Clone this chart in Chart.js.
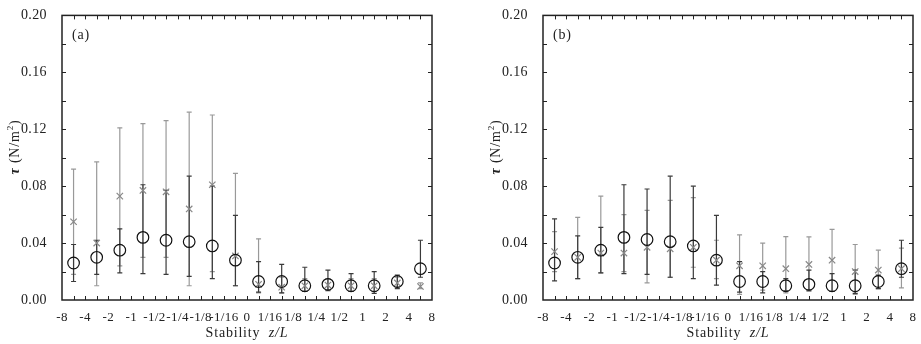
<!DOCTYPE html>
<html>
<head>
<meta charset="utf-8">
<script src="https://cdn.jsdelivr.net/npm/chart.js@4.4.0/dist/chart.umd.min.js"></script>
<style>
  body { margin: 0; background: #fff; }
  #wrap { position: relative; width: 921px; height: 344px; }
  canvas { position: absolute; top: 0; }
</style>
</head>
<body>
<div id="wrap">
  <canvas id="chartA" width="440" height="344" style="left:0"></canvas>
  <canvas id="chartB" width="440" height="344" style="left:481px"></canvas>
</div>
<script>
// Stability classes z/L (tick labels at bin edges)
const stabilityLabels = ['-8', '-4', '-2', '-1', '-1/2', '-1/4', '-1/8', '-1/16', '0', '1/16', '1/8', '1/4', '1/2', '1', '2', '4', '8'];
const yTicks = [0, 0.04, 0.08, 0.12, 0.16, 0.20];

// panel (a): circles (black) and crosses (gray), with error-bar ends
const circA   = [0.026, 0.030, 0.035, 0.044, 0.042, 0.041, 0.038, 0.028, 0.013, 0.013, 0.010, 0.011, 0.010, 0.010, 0.013, 0.022];
const circALo = [0.013, 0.018, 0.019, 0.0185, 0.018, 0.0166, 0.015, 0.010, 0.0055, 0.005, 0.006, 0.0065, 0.006, 0.0046, 0.008, 0.016];
const circAHi = [0.039, 0.042, 0.050, 0.081, 0.077, 0.087, 0.080, 0.0595, 0.027, 0.025, 0.023, 0.021, 0.0185, 0.020, 0.0175, 0.042];
const crossA   = [0.055, 0.040, 0.073, 0.077, 0.076, 0.064, 0.081, 0.031, 0.011, 0.009, 0.010, 0.0105, 0.010, 0.010, 0.012, 0.0095];
const crossALo = [0.018, 0.010, 0.024, 0.030, 0.030, 0.010, 0.020, 0.010, 0.005, 0.005, 0.006, 0.007, 0.006, 0.006, 0.009, 0.008];
const crossAHi = [0.092, 0.097, 0.121, 0.124, 0.126, 0.132, 0.130, 0.089, 0.043, 0.016, 0.015, 0.015, 0.015, 0.015, 0.016, 0.012];

// panel (b)
const circB   = [0.026, 0.030, 0.035, 0.044, 0.0425, 0.041, 0.038, 0.028, 0.013, 0.013, 0.010, 0.011, 0.010, 0.010, 0.013, 0.022];
const circBLo = [0.0134, 0.015, 0.019, 0.0185, 0.018, 0.016, 0.015, 0.0104, 0.0055, 0.005, 0.0065, 0.007, 0.006, 0.0046, 0.008, 0.016];
const circBHi = [0.057, 0.045, 0.051, 0.081, 0.078, 0.087, 0.080, 0.0595, 0.027, 0.020, 0.015, 0.021, 0.0185, 0.021, 0.0175, 0.042];
const crossB   = [0.034, 0.030, 0.033, 0.033, 0.037, 0.036, 0.037, 0.028, 0.024, 0.024, 0.022, 0.025, 0.028, 0.020, 0.021, 0.022];
const crossBLo = [0.020, 0.015, 0.019, 0.020, 0.012, 0.016, 0.023, 0.015, 0.004, 0.007, 0.005, 0.006, 0.006, 0.004, 0.008, 0.0085];
const crossBHi = [0.048, 0.058, 0.073, 0.060, 0.063, 0.070, 0.072, 0.042, 0.0457, 0.040, 0.0445, 0.0443, 0.0496, 0.039, 0.035, 0.0365];

const SERIF = '"Liberation Serif", "Times New Roman", serif';

// points sit in the middle of each stability bin
const pts = vals => vals.map((v, i) => ({ x: i + 0.5, y: v }));
// error bar: two ends, then a gap
const barPts = (lo, hi) => {
    const out = [];
    lo.forEach((l, i) => {
        out.push({ x: i + 0.5, y: l }, { x: i + 0.5, y: hi[i] }, { x: i + 0.5, y: null });
    });
    return out;
};

const frame = {
    id: 'frame',
    beforeDraw(chart) {
        chart.ctx.letterSpacing = '0.4px';
    },
    afterDraw(chart, args, opts) {
        const { ctx, chartArea: a, scales: { x, y } } = chart;
        ctx.save();
        ctx.strokeStyle = '#222';
        ctx.lineWidth = 1;
        ctx.beginPath();
        for (let k = 1; k < 32; k++) {
            const px = Math.round(x.getPixelForValue(k / 2)) + 0.5;
            ctx.moveTo(px, a.bottom); ctx.lineTo(px, a.bottom - 4);
            ctx.moveTo(px, a.top); ctx.lineTo(px, a.top + 4);
        }
        for (let k = 1; k < 10; k++) {
            const py = Math.round(y.getPixelForValue(k * 0.02)) + 0.5;
            ctx.moveTo(a.left, py); ctx.lineTo(a.left + 4, py);
            ctx.moveTo(a.right, py); ctx.lineTo(a.right - 4, py);
        }
        ctx.stroke();
        ctx.lineWidth = 1.5;
        ctx.strokeRect(a.left, a.top, a.right - a.left, a.bottom - a.top);

        ctx.fillStyle = '#222';
        ctx.textBaseline = 'middle';
        ctx.textAlign = 'left';
        ctx.letterSpacing = '0.8px';
        ctx.font = '14px ' + SERIF;
        ctx.fillText(opts.tag, a.left + 10, a.top + 20);

        // x title: Stability z/L
        const xs = [['Stability  ', '14px ' + SERIF, 0], ['z/L', 'italic 14px ' + SERIF, 0]];
        drawRun(ctx, xs, (a.left + a.right) / 2, 333);

        // y title: τ (N/m²)
        ctx.translate(15, 147);
        ctx.rotate(-Math.PI / 2);
        const ys = [['τ', 'bold italic 14px ' + SERIF, 0], [' (N/m', '14px ' + SERIF, 0],
                    ['2', '9px ' + SERIF, -4], [')', '14px ' + SERIF, 0]];
        drawRun(ctx, ys, 0, 0);
        ctx.restore();
    }
};

function drawRun(ctx, parts, cx, cy) {
    let w = 0;
    parts.forEach(p => { ctx.font = p[1]; w += ctx.measureText(p[0]).width; });
    let xx = cx - w / 2;
    parts.forEach(p => {
        ctx.font = p[1];
        ctx.fillText(p[0], xx, cy + p[2]);
        xx += ctx.measureText(p[0]).width;
    });
}

function makeChart(id, tag, circ, circLo, circHi, cross, crossLo, crossHi) {
    return new Chart(document.getElementById(id).getContext('2d'), {
        type: 'scatter',
        data: {
            datasets: [
                { data: pts(circ), pointStyle: 'circle', pointRadius: 5.8, pointBorderWidth: 1.2,
                  borderColor: '#111', backgroundColor: 'rgba(0,0,0,0)', showLine: false },
                { data: pts(cross), pointStyle: 'crossRot', pointRadius: 4.5, pointBorderWidth: 1.2,
                  borderColor: '#888', backgroundColor: '#888', showLine: false },
                { data: barPts(circLo, circHi), showLine: true, spanGaps: false, borderColor: '#3a3a3a',
                  borderWidth: 1.2, pointStyle: 'line', pointRadius: 2.5, pointBorderWidth: 1.2 },
                { data: barPts(crossLo, crossHi), showLine: true, spanGaps: false, borderColor: '#999',
                  borderWidth: 1.2, pointStyle: 'line', pointRadius: 2.5, pointBorderWidth: 1.2 }
            ]
        },
        options: {
            responsive: false,
            animation: false,
            devicePixelRatio: 1,
            layout: { padding: { left: 0, right: 8, top: 11, bottom: 0 } },
            plugins: { legend: { display: false }, tooltip: { enabled: false }, frame: { tag: tag } },
            scales: {
                x: {
                    type: 'linear', min: 0, max: 16,
                    grid: { display: false }, border: { display: false },
                    afterBuildTicks: s => { s.ticks = stabilityLabels.map((l, i) => ({ value: i })); },
                    ticks: { autoSkip: false, maxRotation: 0, padding: 2, color: '#222',
                             font: { family: SERIF, size: 13 },
                             callback: v => stabilityLabels[v] },
                    afterFit: s => { s.height = 44; }
                },
                y: {
                    type: 'linear', min: 0, max: 0.2,
                    grid: { display: false }, border: { display: false },
                    afterBuildTicks: s => { s.ticks = yTicks.map(v => ({ value: v })); },
                    ticks: { padding: 7, color: '#222', font: { family: SERIF, size: 14 },
                             callback: v => v.toFixed(2) },
                    afterFit: s => { s.width = 62; }
                }
            }
        },
        plugins: [frame]
    });
}

makeChart('chartA', '(a)', circA, circALo, circAHi, crossA, crossALo, crossAHi);
makeChart('chartB', '(b)', circB, circBLo, circBHi, crossB, crossBLo, crossBHi);
</script>
</body>
</html>
